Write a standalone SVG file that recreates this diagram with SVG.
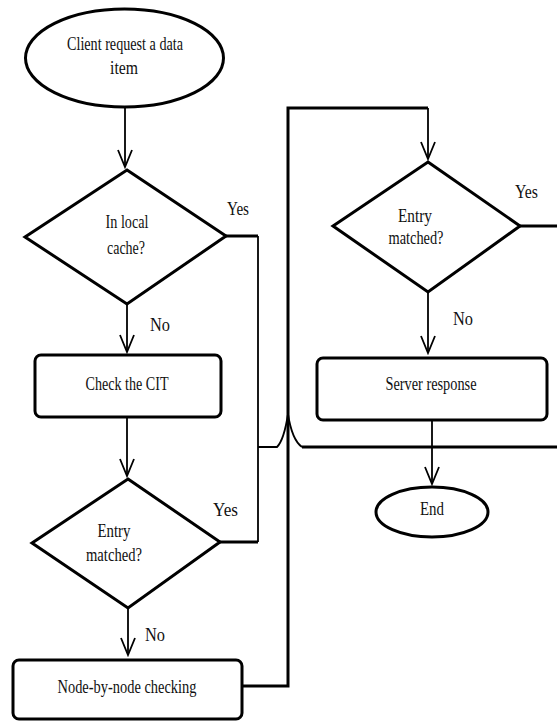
<svg xmlns="http://www.w3.org/2000/svg" width="557" height="721" viewBox="0 0 557 721">
<style>
.shape{fill:#fff;stroke:#000;stroke-width:3;stroke-linejoin:miter}
.box{fill:#fff;stroke:#000;stroke-width:3}
.t{font-family:"Liberation Serif","Times New Roman",serif;font-size:18px;fill:#111;text-anchor:middle}
.lbl{font-family:"Liberation Serif","Times New Roman",serif;font-size:18px;fill:#111}
.c{fill:none;stroke:#000;stroke-width:1.8}
.thick{fill:none;stroke:#000;stroke-width:3}
</style>
<defs>
<marker id="arr" markerUnits="userSpaceOnUse" markerWidth="20" markerHeight="18" viewBox="-18 -9 20 18" refX="0" refY="0" orient="auto">
<path d="M-17,-7 L0,0 L-17,7" fill="none" stroke="#000" stroke-width="1.8"/>
</marker>
</defs>
<rect width="557" height="721" fill="#fff"/>
<g id="connectors">
<path class="c" d="M125,108 L125,167" marker-end="url(#arr)"/>
<path class="c" d="M127,304 L127,352" marker-end="url(#arr)"/>
<path class="c" d="M127,417 L127,476" marker-end="url(#arr)"/>
<path class="c" d="M128,608 L128,655" marker-end="url(#arr)"/>
<path class="thick" d="M226,236 L258,236"/>
<path class="c" d="M258,236 L258,542"/>
<path class="thick" d="M258,542 L220,542"/>
<path class="c" d="M258,447 L277,447 Q284,440 288,414 Q292,440 302,447"/>
<path class="thick" d="M302,447 L557,447"/>
<path class="thick" d="M242,686 L288,686 L288,108 L428,108"/>
<path class="c" d="M428,108 L428,159" marker-end="url(#arr)"/>
<path class="thick" d="M520,226 L557,226"/>
<path class="c" d="M428,292 L428,353" marker-end="url(#arr)"/>
<path class="c" d="M432,420 L432,484" marker-end="url(#arr)"/>
</g>
<g id="start">
<ellipse class="shape" cx="124.5" cy="58" rx="99" ry="49"/>
<text class="t" x="125" y="50" textLength="116" lengthAdjust="spacingAndGlyphs">Client request a data</text>
<text class="t" x="124" y="74" textLength="28" lengthAdjust="spacingAndGlyphs">item</text>
</g>
<g id="local-cache">
<polygon class="shape" points="127,170 226,236 127,304 25,237"/>
<text class="t" x="127" y="228" textLength="43" lengthAdjust="spacingAndGlyphs">In local</text>
<text class="t" x="126" y="254" textLength="38" lengthAdjust="spacingAndGlyphs">cache?</text>
<text class="lbl" x="227" y="215" textLength="22" lengthAdjust="spacingAndGlyphs">Yes</text>
<text class="lbl" x="150" y="331" textLength="20" lengthAdjust="spacingAndGlyphs">No</text>
</g>
<g id="check-cit">
<rect class="box" x="35" y="355" width="186" height="62" rx="6"/>
<text class="t" x="127" y="390" textLength="83" lengthAdjust="spacingAndGlyphs">Check the CIT</text>
</g>
<g id="entry-matched-1">
<polygon class="shape" points="128,479 220,542 128,608 32,543"/>
<text class="t" x="114" y="537" textLength="33" lengthAdjust="spacingAndGlyphs">Entry</text>
<text class="t" x="114" y="561" textLength="56" lengthAdjust="spacingAndGlyphs">matched?</text>
<text class="lbl" x="213" y="516" textLength="25" lengthAdjust="spacingAndGlyphs">Yes</text>
<text class="lbl" x="145" y="641" textLength="20" lengthAdjust="spacingAndGlyphs">No</text>
</g>
<g id="node-by-node">
<rect class="box" x="13" y="660" width="229" height="59" rx="6"/>
<text class="t" x="127" y="693" textLength="139" lengthAdjust="spacingAndGlyphs">Node-by-node checking</text>
</g>
<g id="entry-matched-2">
<polygon class="shape" points="428,162 520,226 428,292 333,226"/>
<text class="t" x="415" y="222" textLength="34" lengthAdjust="spacingAndGlyphs">Entry</text>
<text class="t" x="416" y="244" textLength="55" lengthAdjust="spacingAndGlyphs">matched?</text>
<text class="lbl" x="515" y="198" textLength="23" lengthAdjust="spacingAndGlyphs">Yes</text>
<text class="lbl" x="453" y="325" textLength="20" lengthAdjust="spacingAndGlyphs">No</text>
</g>
<g id="server-response">
<rect class="box" x="317" y="358" width="230" height="62" rx="6"/>
<text class="t" x="431" y="390" textLength="91" lengthAdjust="spacingAndGlyphs">Server response</text>
</g>
<g id="end">
<ellipse class="shape" cx="432" cy="512" rx="56" ry="25"/>
<text class="t" x="432" y="515" textLength="24" lengthAdjust="spacingAndGlyphs">End</text>
</g>
</svg>
